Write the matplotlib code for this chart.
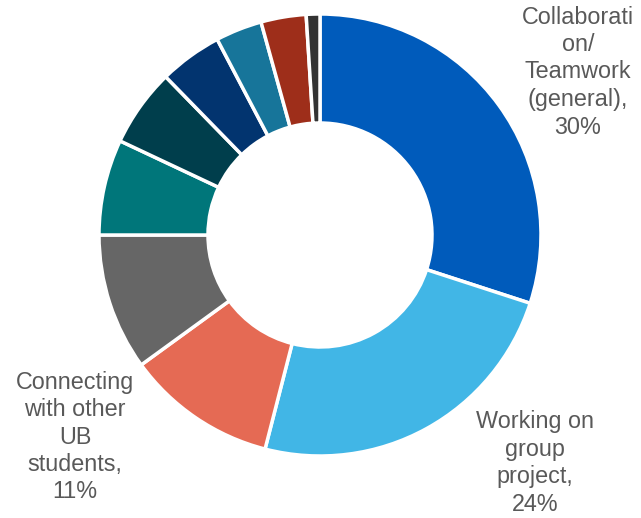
import matplotlib.pyplot as plt

plt.rcParams['font.family'] = ['Liberation Sans', 'DejaVu Sans']

# share of responses, clockwise from 12 o'clock
values = [30, 24, 11, 10, 7, 5.7, 4.6, 3.4, 3.3, 1.0]
colors = ['#005BBB', '#41B6E6', '#E56A54', '#666666', '#00767A',
          '#003E4C', '#02346F', '#17759A', '#9E2E1A', '#333333']
labels = {0: 'Collaborati\non/\nTeamwork\n(general),\n30%',
          1: 'Working on\ngroup\nproject,\n24%',
          2: 'Connecting\nwith other\nUB\nstudents,\n11%'}
label_pos = {0: (578, 72), 1: (535, 463), 2: (75, 437)}

W, H = 641, 518
fig = plt.figure(figsize=(W / 100, H / 100), dpi=100)
ax = fig.add_axes([0, 0, 1, 1])
ax.set_xlim(0, W)
ax.set_ylim(0, H)
ax.set_aspect('equal')
ax.axis('off')

ax.pie(values, colors=colors, startangle=90, counterclock=False,
       center=(320, H - 235), radius=221,
       wedgeprops=dict(width=109, edgecolor='white', linewidth=2.5))
ax.set_xlim(0, W)
ax.set_ylim(0, H)

for i, txt in labels.items():
    x, y = label_pos[i]
    ax.text(x, H - y, txt, ha='center', va='center', fontsize=16.8,
            color='#595959', linespacing=1.25)

fig.savefig('out.png', dpi=100)
